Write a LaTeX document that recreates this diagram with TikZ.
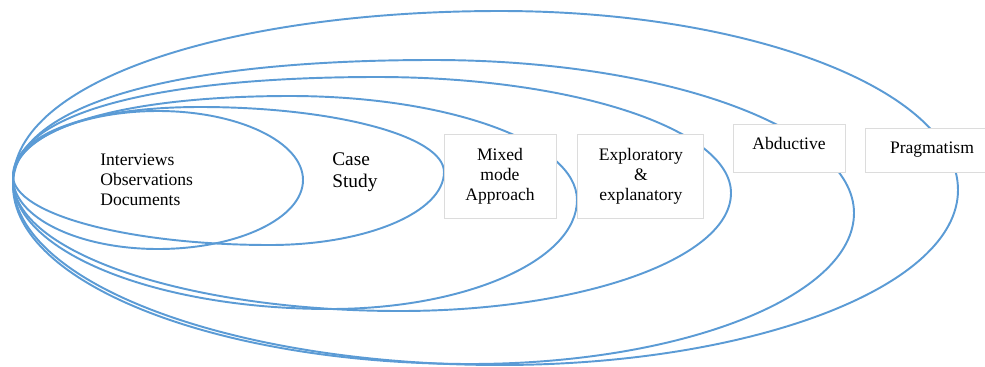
\documentclass[tikz,border=0pt]{standalone}
\usepackage{fontspec}
\setmainfont{Liberation Serif}
\usetikzlibrary{positioning}
\definecolor{ovalblue}{RGB}{91,155,213}
\definecolor{boxgray}{RGB}{220,220,220}

\begin{document}
\begin{tikzpicture}[x=0.02cm,y=-0.02cm,
    ring/.style={draw=ovalblue,line width=1.1pt},
    stage/.style={draw=boxgray,fill=white,line width=0.5pt,align=center,inner sep=0pt,
      font=\fontsize{10}{11.3}\selectfont}]
  \useasboundingbox (0,0) rectangle (985,366);
  % rings: left, top, right, bottom points, then the bulge of the upper left quarter
  \foreach \lx/\ly/\tx/\ty/\rx/\ry/\bx/\by/\ka/\kb in {
      13/178/158/111/303/180/158/249/0.552/0.552,
      13/176/200/107/444/172/270/245/0.6/0.6,
      13/180/290/96/577/200/330/309/0.65/0.58,
      13/180/377/77/731/193/400/311/0.66/0.6,
      13/185/433/60/854/213/470/364/0.66/0.6,
      13/182/500/11/958/190/500/365/0.6/0.55}
    \draw[ring] (\lx,\ly)
      .. controls (\lx,{\ly-\ka*(\ly-\ty)}) and ({\tx-\kb*(\tx-\lx)},\ty) .. (\tx,\ty)
      .. controls ({\tx+0.552*(\rx-\tx)},\ty) and (\rx,{\ry-0.552*(\ry-\ty)}) .. (\rx,\ry)
      .. controls (\rx,{\ry+0.552*(\by-\ry)}) and ({\bx+0.552*(\rx-\bx)},\by) .. (\bx,\by)
      .. controls ({\bx-0.552*(\bx-\lx)},\by) and (\lx,{\ly+0.552*(\by-\ly)}) .. cycle;

  \node[align=left,anchor=west,inner sep=0pt,font=\fontsize{10}{11.3}\selectfont] (methods) at (100,180)
    {Interviews\\Observations\\Documents};
  \node[align=left,anchor=west,inner sep=0pt,font=\fontsize{11}{12.8}\selectfont] (casestudy) at (332,172)
    {Case\\Study};
  \node[stage,minimum width=2.24cm,minimum height=1.68cm] (mixed) at (500,176)
    {Mixed\\mode\\Approach};
  \node[stage,minimum width=2.52cm,minimum height=1.68cm,right=0.42cm of mixed] (explor)
    {Exploratory\\\&\\explanatory};
  \node[stage,minimum width=2.24cm,minimum height=0.96cm,text depth=0.2cm] (abduct) at (789,148) {Abductive};
  \node[stage,minimum width=2.68cm,minimum height=0.88cm,text depth=0.08cm] (pragma) at (932,150) {Pragmatism};
\end{tikzpicture}
\end{document}
